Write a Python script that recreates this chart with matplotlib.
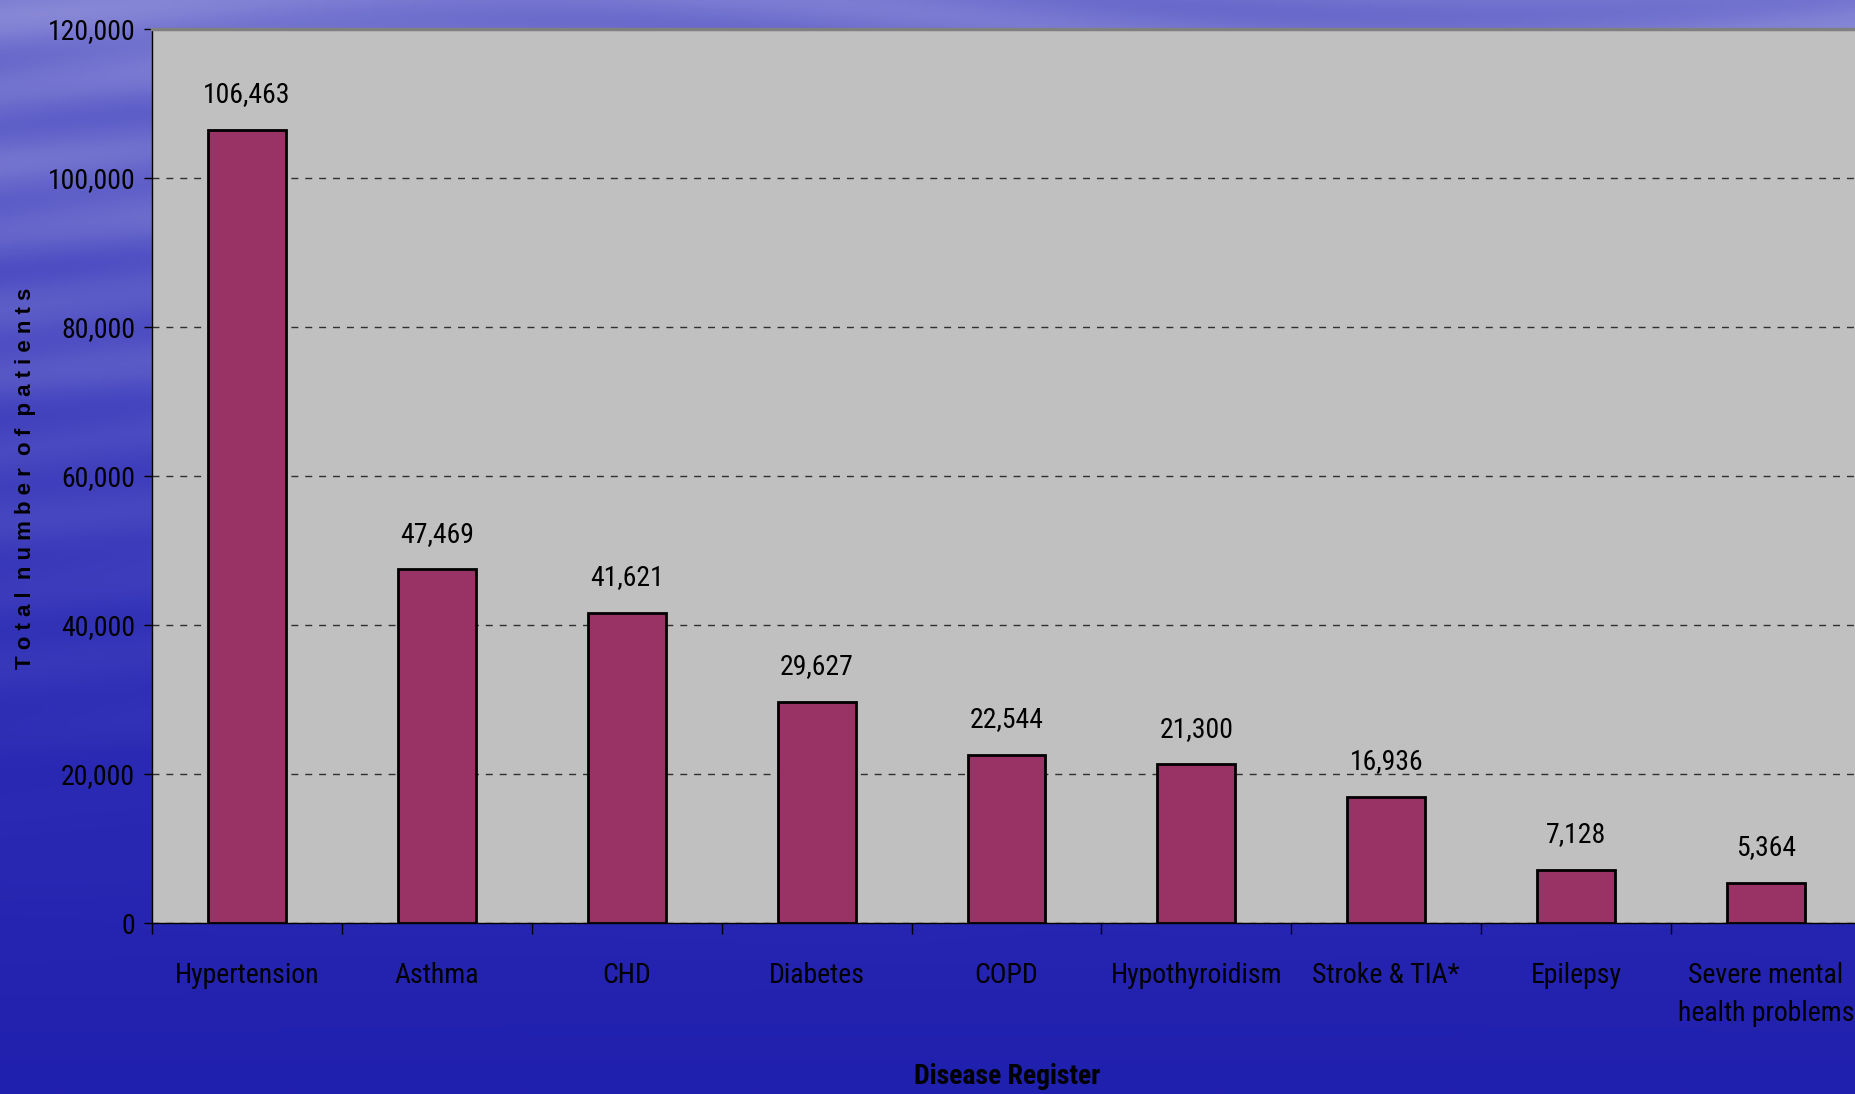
import numpy as np
import matplotlib
matplotlib.use("Agg")
import matplotlib.pyplot as plt
from matplotlib.colors import LinearSegmentedColormap

categories = ["Hypertension", "Asthma", "CHD", "Diabetes", "COPD",
              "Hypothyroidism", "Stroke & TIA*", "Epilepsy",
              "Severe mental\nhealth problems"]
patients = [106463, 47469, 41621, 29627, 22544, 21300, 16936, 7128, 5364]
y_ticks = [0, 20000, 40000, 60000, 80000, 100000, 120000]

narrow = ["Roboto Condensed", "Liberation Sans", "DejaVu Sans"]
plt.rcParams["font.family"] = narrow

W, H = 1856, 1094
fig = plt.figure(figsize=(W / 100, H / 100), dpi=100)

# blue streaky backdrop
bg = fig.add_axes([0, 0, 1, 1], zorder=-10)
yy, xx = np.mgrid[0:1:400j, 0:1:800j]
base = 1 - yy
streaks = (0.06 * np.sin(yy * 95 + 3 * np.sin(xx * 6)) * np.clip(1.2 - yy * 1.3, 0, 1)
           + 0.04 * np.sin(yy * 41 + 2 * np.cos(xx * 4 + 1)) * np.clip(1.0 - yy, 0, 1))
shade = np.clip(base * 0.85 + streaks, 0, 1)
cmap = LinearSegmentedColormap.from_list(
    "sky", ["#2020ae", "#2a2ab4", "#4646c0", "#6a6acc", "#9090da"])
bg.imshow(shade, cmap=cmap, aspect="auto", extent=[0, 1, 0, 1],
          origin="upper", vmin=0, vmax=1)
bg.set_axis_off()

left, top, bottom, right = 152, 29, 923, 1861
ax = fig.add_axes([left / W, 1 - bottom / H, (right - left) / W, (bottom - top) / H])
ax.set_facecolor("#c0c0c0")

x = np.arange(len(categories))
ax.bar(x, patients, width=0.41, color="#993366", edgecolor="black",
       linewidth=2, zorder=3)
for xi, v in zip(x, patients):
    ax.annotate(f"{v:,}", (xi, v), xytext=(0, 20), textcoords="offset points",
                ha="center", va="baseline", fontsize=20)

ax.set_xlim(-0.5, len(categories) - 0.5)
ax.set_ylim(0, 120000)
ax.set_yticks(y_ticks)
ax.set_yticklabels([f"{t:,}" for t in y_ticks], fontsize=20)
ax.yaxis.grid(True, linestyle=(0, (5, 5)), color="#303030", linewidth=1)
ax.set_axisbelow(True)

ax.set_xticks(x)
ax.set_xticklabels(categories, fontsize=20, linespacing=1.55, va="top")
ax.tick_params(axis="x", which="major", length=0, pad=28)
ax.set_xticks(np.arange(len(categories) + 1) - 0.5, minor=True)
ax.tick_params(axis="x", which="minor", length=8, width=1, direction="out")
ax.tick_params(axis="y", length=6, width=1, pad=6)

for s in ["left", "bottom"]:
    ax.spines[s].set_color("black")
    ax.spines[s].set_linewidth(1)
ax.spines["top"].set_color("#808080")
ax.spines["top"].set_linewidth(2.5)
ax.spines["right"].set_visible(False)

fig.text(26 / W, 1 - 478 / H, "T o t a l  n u m b e r  o f  p a t i e n t s",
         rotation=90, ha="center", va="center", fontsize=16,
         fontweight="bold", family=["Liberation Sans", "DejaVu Sans"])
fig.text(1007 / W, 1 - 1077 / H, "Disease Register", ha="center", va="center",
         fontsize=20, fontweight="bold")

fig.savefig("out.png", dpi=100)
